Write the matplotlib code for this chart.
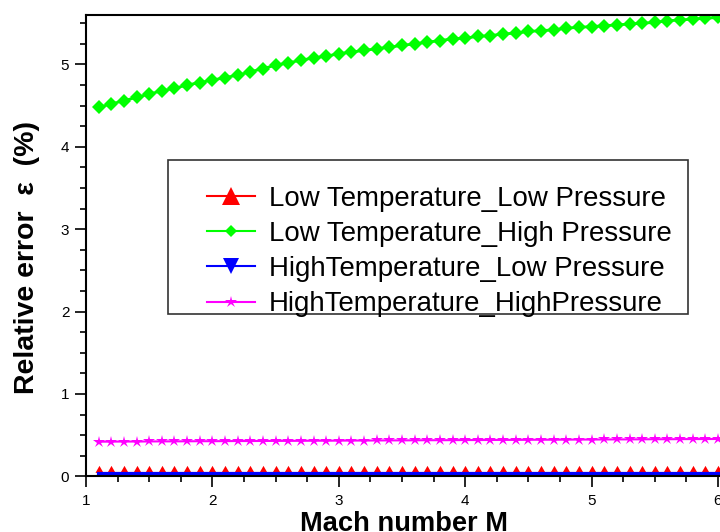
import matplotlib
matplotlib.use("Agg")
import matplotlib.pyplot as plt
from matplotlib.lines import Line2D
from matplotlib.patches import Rectangle
from matplotlib.ticker import MultipleLocator

plt.rcParams['font.family'] = ['Liberation Sans', 'DejaVu Sans']

# Mach number, 1.1 to 6.0 in steps of 0.1
mach = [round(1.1 + 0.1 * i, 1) for i in range(50)]

# Relative error (%)
lt_lp = [0.035] * 50
lt_hp = [4.48, 4.52, 4.56, 4.60, 4.64, 4.68, 4.71, 4.75, 4.78, 4.81,
         4.84, 4.87, 4.91, 4.95, 4.99, 5.02, 5.05, 5.08, 5.10, 5.13,
         5.15, 5.17, 5.19, 5.21, 5.23, 5.25, 5.27, 5.29, 5.31, 5.32,
         5.34, 5.35, 5.37, 5.38, 5.40, 5.41, 5.42, 5.44, 5.45, 5.46,
         5.47, 5.48, 5.49, 5.50, 5.51, 5.53, 5.54, 5.55, 5.56, 5.57]
ht_lp = [0.025] * 50
ht_hp = [0.420, 0.421, 0.422, 0.422, 0.423, 0.424, 0.424, 0.425, 0.426, 0.426,
         0.427, 0.428, 0.428, 0.429, 0.430, 0.430, 0.431, 0.432, 0.432, 0.433,
         0.434, 0.434, 0.435, 0.436, 0.436, 0.437, 0.438, 0.438, 0.439, 0.440,
         0.440, 0.441, 0.442, 0.442, 0.443, 0.444, 0.444, 0.445, 0.446, 0.446,
         0.447, 0.448, 0.448, 0.449, 0.450, 0.450, 0.451, 0.452, 0.452, 0.453]

labels = ['Low Temperature_Low Pressure', 'Low Temperature_High Pressure',
          'HighTemperature_Low Pressure', 'HighTemperature_HighPressure']

# triangle sitting just above its point (as drawn in the original)
tri_up = [(-1, 0.15), (1, 0.15), (0, 1.9), (-1, 0.15)]

fig = plt.figure(figsize=(7.2, 5.32), dpi=100)
ax = fig.add_axes([86 / 720, 55.7 / 532, (722 - 86) / 720, (517 - 55.7) / 532])

ax.plot(mach, lt_lp, color='red', lw=1.5, marker=tri_up, ms=11, mew=0)
ax.plot(mach, lt_hp, color='#00ff00', lw=2, marker='D', ms=7, mew=0)
ax.plot(mach, ht_hp, color='magenta', lw=1.5, marker='*', ms=9, mew=0)
ax.plot(mach, ht_lp, color='blue', lw=3, marker='v', ms=3, mew=0)

ax.set_xlim(1, 1 + (722 - 86) / 126.4)
ax.set_ylim(0, 5.6)
ax.xaxis.set_major_locator(MultipleLocator(1))
ax.xaxis.set_minor_locator(MultipleLocator(0.25))
ax.yaxis.set_major_locator(MultipleLocator(1))
ax.yaxis.set_minor_locator(MultipleLocator(0.25))
ax.tick_params(which='major', direction='out', length=8, width=1.2, labelsize=11, pad=4)
ax.tick_params(which='minor', direction='out', length=4.5, width=1.2)
ax.tick_params(axis='x', which='major', pad=5)
for s in ax.spines.values():
    s.set_linewidth(1.5)

ax.set_xlabel('Mach number M', fontsize=19.6, fontweight='bold', labelpad=2)
ax.set_ylabel('Relative error  ε  (%)', fontsize=20.5, fontweight='bold')
ax.yaxis.set_label_coords(-0.072, 0.474)

handles = [
    Line2D([], [], color='red', lw=1.5, marker='^', ms=13, mew=0),
    Line2D([], [], color='#00ff00', lw=1.5, marker='D', ms=6, mew=0),
    Line2D([], [], color='blue', lw=1.5, marker='v', ms=12, mew=0),
    Line2D([], [], color='magenta', lw=1.5, marker='*', ms=9, mew=0),
]
fig.legend(handles, labels, loc='upper left', bbox_to_anchor=(193 / 720, (532 - 172) / 532),
           frameon=False, fontsize=19.9, borderpad=0, handlelength=1.75,
           handletextpad=0.5, labelspacing=0.33)
fig.patches.append(Rectangle((168 / 720, (532 - 314) / 532), (688 - 168) / 720, (314 - 160) / 532,
                             transform=fig.transFigure, fill=False, edgecolor='#333333', lw=1.2))

fig.savefig('out.png', dpi=100)
